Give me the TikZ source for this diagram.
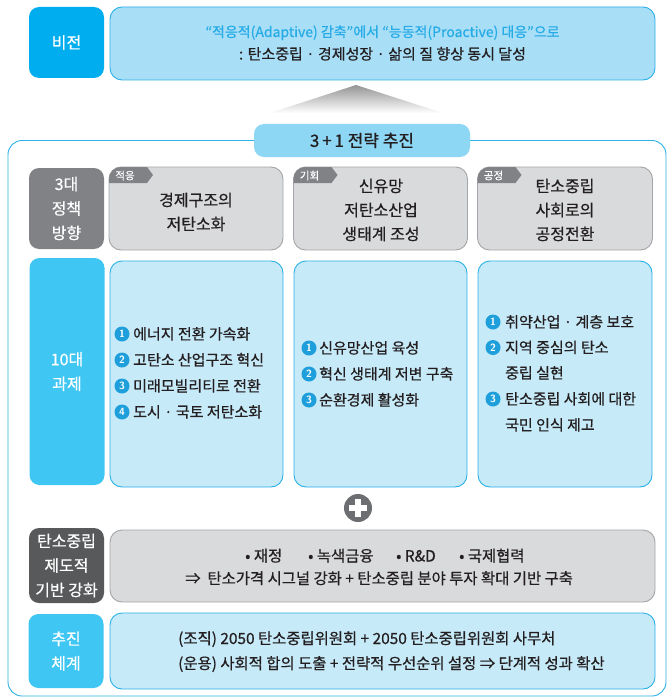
\documentclass[tikz,border=0pt]{standalone}
\usepackage{fontspec}
\setmainfont{Noto Sans CJK KR}[FakeBold=0.6]
\definecolor{cyanA}{HTML}{00AEEF}
\definecolor{cyanB}{HTML}{3FC6F3}
\definecolor{lightA}{HTML}{A9DEF7}
\definecolor{lightB}{HTML}{C7EAF9}
\definecolor{bannerC}{HTML}{8DD7F5}
\definecolor{lineC}{HTML}{2BB0E8}
\definecolor{grayL}{HTML}{808285}
\definecolor{grayD}{HTML}{58595B}
\definecolor{grayBox}{HTML}{D9DADC}
\definecolor{grayBorder}{HTML}{A3A5A8}
\definecolor{textBlue}{HTML}{25ABE6}
\definecolor{textDark}{HTML}{231F20}
\definecolor{bulletC}{HTML}{1E9FDB}
\definecolor{plusC}{HTML}{6D6E71}
\tikzset{
  labelbox/.style={rounded corners=10pt, inner sep=0pt, text=white, align=center,
    minimum width=75pt, font=\fontsize{16}{24.5}\selectfont},
  bluebox/.style={rounded corners=12pt, inner sep=0pt, fill=lightB, draw=lineC, line width=0.9pt},
  graybox/.style={rounded corners=12pt, inner sep=0pt, fill=grayBox, draw=grayBorder, line width=0.9pt},
  titletext/.style={align=center, inner sep=0pt, text=textDark, font=\fontsize{16}{24}\selectfont},
  itemtext/.style={anchor=base west, inner sep=0pt, text=textDark, font=\fontsize{15}{16}\selectfont},
  bul/.style={circle, fill=bulletC, inner sep=0pt, minimum size=15pt, text=white,
    font=\sffamily\bfseries\fontsize{10.5}{10.5}\selectfont},
  tagtext/.style={inner sep=0pt, text=white, font=\fontsize{10.5}{10.5}\selectfont},
  bodytext/.style={align=center, inner sep=0pt, text=textDark, font=\fontsize{15.4}{22.5}\selectfont},
}
\begin{document}
\begin{tikzpicture}[x=1pt,y=-1pt]
\useasboundingbox (0,0) rectangle (671,698);
\fill[white] (0,0) rectangle (671,698);

% vision row
\node[labelbox, fill=cyanA, minimum height=71pt] (vlabel) at (66.5,42.5) {비전};
\node[rounded corners=12pt, inner sep=0pt, fill=lightA, draw=lineC, line width=0.9pt,
  minimum width=545pt, minimum height=73pt] (vbox) at (382.5,43.5) {};
\node[inner sep=0pt, text=textBlue, font=\fontsize{14}{14}\selectfont, anchor=base] (vtext1) at (382.5,37) {“적응적(Adaptive) 감축”에서 “능동적(Proactive) 대응”으로};
\node[inner sep=0pt, text=textDark, font=\fontsize{15}{15}\selectfont, anchor=base] (vtext2) at (382.5,59.5) {: 탄소중립 · 경제성장 · 삶의 질 향상 동시 달성};

% gradient triangle
\coordinate (tapex) at (356,85);
\coordinate (tleft) at (270,113);
\coordinate (tright) at (443,113);
\shade[top color=black!42, bottom color=white] (tapex) -- (tright) -- (tleft) -- cycle;

% outline
\draw[lineC, line width=0.9pt, rounded corners=14pt] (8,140.5) rectangle (666,696);

% banner
\node[rounded corners=10pt, fill=bannerC, inner sep=0pt, minimum width=216pt, minimum height=33pt,
  text=textDark, font=\fontsize{17}{17}\selectfont] (banner) at (362,140.5) {3\,+\,1 전략 추진};

% policy row
\node[labelbox, fill=grayL, minimum height=81pt] (plabel) at (66.5,208.5) {3대\\정책\\방향};
\node[graybox, minimum width=174pt, minimum height=83pt] (p1) at (196,208.5) {};
\node[graybox, minimum width=174pt, minimum height=83pt] (p2) at (380.5,208.5) {};
\node[graybox, minimum width=175pt, minimum height=83pt] (p3) at (565,208.5) {};
\foreach \n/\xx/\tg in {p1/109/적응, p2/293.5/기회, p3/477.5/공정}{
  \fill[grayL] (\xx,183) [rounded corners=12pt] -- (\xx,167) [sharp corners] -- ({\xx+38},167) -- ({\xx+44},175) -- ({\xx+38},183) -- cycle;
  \node[tagtext] (\n tag) at ({\xx+16},175.5) {\tg};
}
\node[titletext] (p1t) at (196,212) {경제구조의\\저탄소화};
\node[titletext] (p2t) at (381,210) {신유망\\저탄소산업\\생태계 조성};
\node[titletext] (p3t) at (565,210) {탄소중립\\사회로의\\공정전환};

% task row
\node[labelbox, fill=cyanB, minimum height=227pt] (tlabel) at (67,371.5) {10대\\과제};
\node[bluebox, minimum width=173pt, minimum height=226pt] (t1) at (196.5,374) {};
\node[bluebox, minimum width=173pt, minimum height=226pt] (t2) at (380.5,374) {};
\node[bluebox, minimum width=174pt, minimum height=226pt] (t3) at (565,374) {};

\node[bul] (b11) at (122,334) {1};
\node[bul] (b12) at (122,360) {2};
\node[bul] (b13) at (122,386) {3};
\node[bul] (b14) at (122,412) {4};
\node[itemtext] (i11) at (133,339.5) {에너지 전환 가속화};
\node[itemtext] (i12) at (133,365.5) {고탄소 산업구조 혁신};
\node[itemtext] (i13) at (133,391.5) {미래모빌리티로 전환};
\node[itemtext] (i14) at (133,417.5) {도시 · 국토 저탄소화};

\node[bul] (b21) at (309,348) {1};
\node[bul] (b22) at (309,374) {2};
\node[bul] (b23) at (309,400) {3};
\node[itemtext] (i21) at (319,353.5) {신유망산업 육성};
\node[itemtext] (i22) at (319,379.5) {혁신 생태계 저변 구축};
\node[itemtext] (i23) at (319,405.5) {순환경제 활성화};

\node[bul] (b31) at (493,322) {1};
\node[bul] (b32) at (493,347.5) {2};
\node[bul] (b33) at (493,399) {3};
\node[itemtext] (i31) at (505,327.5) {취약산업 · 계층 보호};
\node[itemtext] (i32) at (505,353) {지역 중심의 탄소};
\node[itemtext] (i32b) at (505,378.5) {중립 실현};
\node[itemtext] (i33) at (505,404.5) {탄소중립 사회에 대한};
\node[itemtext] (i33b) at (505,430.5) {국민 인식 제고};

% plus
\node[circle, fill=plusC, minimum size=28pt, inner sep=0pt] (plus) at (358,508) {};
\fill[white] (plus.center) ++(-9,-2.6) rectangle ++(18,5.2);
\fill[white] (plus.center) ++(-2.6,-9) rectangle ++(5.2,18);

% base row
\node[labelbox, fill=grayD, minimum height=75pt] (blabel) at (66.5,565.5) {탄소중립\\제도적\\기반 강화};
\node[graybox, minimum width=545pt, minimum height=72pt] (bbox) at (382.5,566) {};
\node[bodytext, anchor=base west] (bt1) at (245,561.5) {• 재정};
\node[bodytext, anchor=base west] (bt2) at (308,561.5) {• 녹색금융};
\node[bodytext, anchor=base west] (bt3) at (396,561.5) {• R\&D};
\node[bodytext, anchor=base west] (bt4) at (459,561.5) {• 국제협력};
\node[bodytext, anchor=base west] (bt5) at (185,584) {⇒\ \ 탄소가격 시그널 강화 + 탄소중립 분야 투자 확대 기반 구축};

% system row
\node[labelbox, fill=cyanB, minimum height=74pt] (slabel) at (66,651) {추진\\체계};
\node[bluebox, minimum width=545pt, minimum height=76pt] (sbox) at (382.5,651) {};
\node[bodytext, anchor=base west] (st1) at (178,644) {(조직) 2050 탄소중립위원회 + 2050 탄소중립위원회 사무처};
\node[bodytext, anchor=base west] (st2) at (178,669) {(운용) 사회적 합의 도출 + 전략적 우선순위 설정 ⇒ 단계적 성과 확산};
\end{tikzpicture}
\end{document}
